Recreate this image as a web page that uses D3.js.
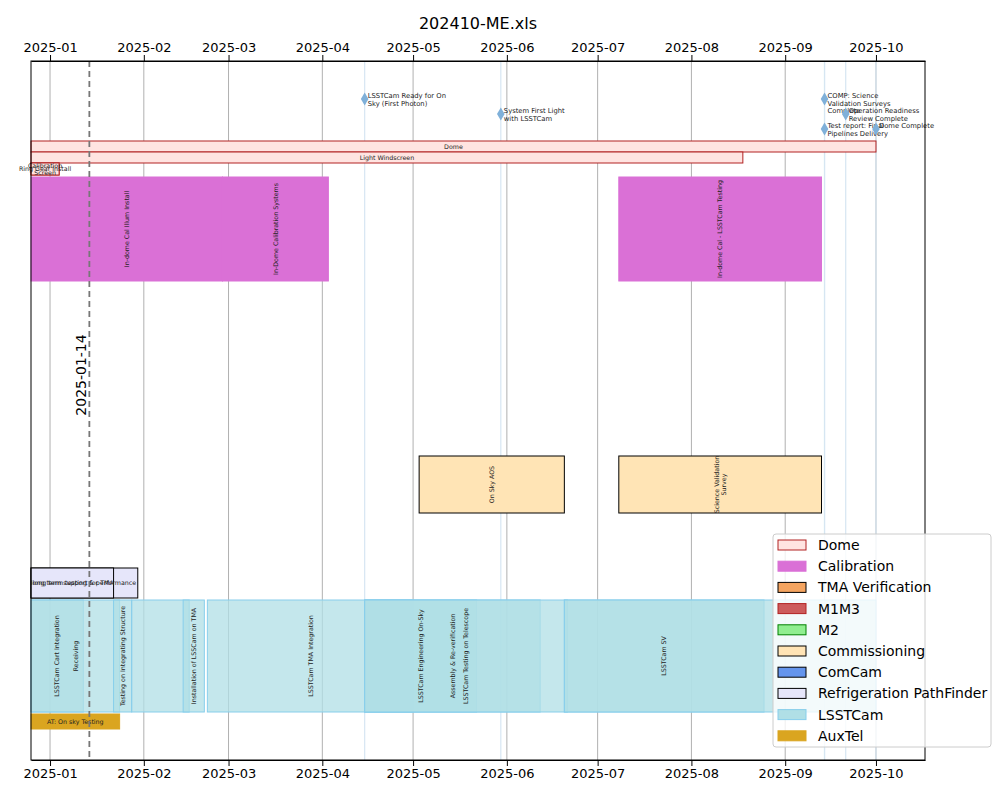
<!DOCTYPE html><html><head><meta charset="utf-8">
<script src="https://cdn.jsdelivr.net/npm/d3@7"></script>
<style>body{margin:0;background:#fff;font-family:"DejaVu Sans",sans-serif}</style></head><body>
<svg id="c" width="1000" height="800"></svg>
<script>
const monthTicks=["2025-01-01","2025-02-01","2025-03-01","2025-04-01","2025-05-01","2025-06-01","2025-07-01","2025-08-01","2025-09-01","2025-10-01"];
const categories=["Dome","Calibration","TMA Verification","M1M3","M2","Commissioning","ComCam","Refrigeration PathFinder","LSSTCam","AuxTel"];
const catFill=["#ffe4e1","#da70d6","#f4a460","#cd5c5c","#90ee90","#ffe4b5","#6495ed","#e6e6fa","#b0dfe6","#daa520"];
const catStroke=["#b22222","#da70d6","#000","#b22222","#008000","#000","#000","#000","#87ceeb","#daa520"];
// tasks: [category, label, start, end, y0, y1, vertical label]
const tasks=[
["Dome","Dome","2024-12-25","2025-10-01",8.0,9.1,false],
["Dome","Light Windscreen","2024-12-25","2025-08-18",9.1,10.2,false],
["Dome","Calibration\nScreen","2024-12-25","2025-01-04",10.2,11.4,false],
["Dome","Ring Gear Install","2024-12-25","2025-01-04",10.2,11.4,false],
["Calibration","In-dome Cal Illum Install","2024-12-25","2025-02-27",11.6,22.0,true],
["Calibration","In-Dome Calibration Systems","2025-02-27","2025-04-03",11.6,22.0,true],
["Calibration","In-dome Cal - LSSTCam Testing","2025-07-08","2025-09-13",11.6,22.0,true],
["Commissioning","On Sky AOS","2025-05-03","2025-06-20",39.5,45.2,true],
["Commissioning","Science Validation\nSurvey","2025-07-08","2025-09-13",39.5,45.2,true],
["Refrigeration PathFinder","long term testing & performance","2024-12-25","2025-01-30",50.7,53.7,false],
["Refrigeration PathFinder","long term support for TMA","2024-12-25","2025-01-22",50.7,53.7,false],
["LSSTCam","LSSTCam Cart Integration","2024-12-25","2025-01-12",53.9,65.1,true],
["LSSTCam","Receiving","2024-12-25","2025-01-24",53.9,65.1,true],
["LSSTCam","Testing on Integrating Structure","2025-01-22","2025-01-28",53.9,65.1,true],
["LSSTCam","","2025-01-28","2025-02-16",53.9,65.1,true],
["LSSTCam","Installation of LSSCam on TMA","2025-02-14","2025-02-21",53.9,65.1,true],
["LSSTCam","LSSTCam TMA Integration","2025-02-22","2025-05-01",53.9,65.1,true],
["LSSTCam","LSSTCam Engineering On-Sky","2025-04-15","2025-05-22",53.9,65.1,true],
["LSSTCam","Assembly & Re-verification","2025-04-15","2025-06-12",53.9,65.1,true],
["LSSTCam","LSSTCam Testing on Telescope","2025-04-15","2025-06-21",53.9,65.1,true],
["LSSTCam","LSSTCam SV","2025-06-20","2025-08-25",53.9,65.1,true],
["LSSTCam","","2025-06-20","2025-10-01",53.9,65.1,true],
["AuxTel","AT: On sky Testing","2024-12-25","2025-01-24",65.3,66.8,false]
];
// milestones: [label, date, y]
const milestones=[
["LSSTCam Ready for On\nSky (First Photon)","2025-04-15",3.8],
["System First Light\nwith LSSTCam","2025-05-30",5.3],
["COMP: Science\nValidation Surveys\nComplete","2025-09-14",3.8],
["Operation Readiness\nReview Complete","2025-09-21",5.3],
["Test report: Final\nPipelines Delivery","2025-09-14",6.8],
["Dome Complete","2025-10-01",6.8]
];
const markerDate="2025-01-14";

const p=d3.timeParse("%Y-%m-%d");
const svg=d3.select("#c");
const L=31,R=925,T=61,B=760;
const x=d3.scaleTime().domain([new Date(2024,11,25,17),new Date(2025,9,17,5)]).range([L,R]);
const y=d3.scaleLinear().domain([0,69.9]).range([T,B]);
const ticks=monthTicks.map(p);
const g=svg.append("g");
g.selectAll("line.grid").data(ticks).join("line").attr("x1",d=>x(d)).attr("x2",d=>x(d)).attr("y1",T).attr("y2",B).attr("stroke","#b0b0b0").attr("stroke-width",1);
g.selectAll("line.ms").data(milestones).join("line").attr("x1",d=>x(p(d[1]))).attr("x2",d=>x(p(d[1]))).attr("y1",T).attr("y2",B).attr("stroke","#d6e6f2").attr("stroke-width",1.2);
const ci=c=>categories.indexOf(c);
const xs=d=>Math.max(L,x(p(d)));
g.selectAll("rect.t").data(tasks).join("rect")
 .attr("x",d=>xs(d[2])).attr("width",d=>Math.max(1,x(p(d[3]))-xs(d[2])))
 .attr("y",d=>y(d[4])).attr("height",d=>y(d[5])-y(d[4]))
 .attr("fill",d=>catFill[ci(d[0])]).attr("stroke",d=>catStroke[ci(d[0])])
 .attr("fill-opacity",d=>d[0]=="LSSTCam"?0.75:1).attr("stroke-width",1);
tasks.forEach(d=>{
 if(!d[1])return;
 let cx=(xs(d[2])+x(p(d[3])))/2, cy=(y(d[4])+y(d[5]))/2;
 const lines=d[1].split("\n");
 const t=g.append("text").attr("font-size",6.3).attr("fill","#222").attr("text-anchor","middle");
 if(d[6]) t.attr("transform",`translate(${cx},${cy}) rotate(-90)`);
 else t.attr("transform",`translate(${cx},${cy})`);
 lines.forEach((l,i)=>t.append("tspan").attr("x",0).attr("dy",i==0?(-(lines.length-1)*3.5+2.3):7).text(l));
});
// dashed marker
g.append("line").attr("x1",x(p(markerDate))).attr("x2",x(p(markerDate))).attr("y1",T).attr("y2",B).attr("stroke","#777").attr("stroke-width",1.8).attr("stroke-dasharray","6,4");
g.append("text").attr("transform",`translate(${x(p(markerDate))-3},375) rotate(-90)`).attr("text-anchor","middle").attr("font-size",14).text(markerDate);
// milestones
milestones.forEach(m=>{
 const mx=x(p(m[1])),my=y(m[2]);
 g.append("path").attr("d",d3.symbol(d3.symbolDiamond,50)()).attr("transform",`translate(${mx},${my})`).attr("fill","#7fb0d9");
 const t=g.append("text").attr("font-size",6.8).attr("fill","#222");
 m[0].split("\n").forEach((l,i)=>t.append("tspan").attr("x",mx+3).attr("y",my-1+i*7.5).text(l));
});
// axes
svg.append("g").attr("transform",`translate(0,${T})`).call(d3.axisTop(x).tickValues(ticks).tickFormat(d3.timeFormat("%Y-%m")).tickSizeOuter(0)).call(a=>a.selectAll("text").attr("font-size",13).attr("font-family","DejaVu Sans"));
svg.append("g").attr("transform",`translate(0,${B})`).call(d3.axisBottom(x).tickValues(ticks).tickFormat(d3.timeFormat("%Y-%m")).tickSizeOuter(0)).call(a=>a.selectAll("text").attr("font-size",13).attr("font-family","DejaVu Sans"));
svg.append("rect").attr("x",L).attr("y",T).attr("width",R-L).attr("height",B-T).attr("fill","none").attr("stroke","#000");
svg.append("text").attr("x",(L+R)/2).attr("y",29).attr("text-anchor","middle").attr("font-size",16).text("202410-ME.xls");
// legend
const lg=svg.append("g").attr("transform","translate(773,534)");
lg.append("rect").attr("width",218).attr("height",213).attr("rx",3).attr("fill","#fff").attr("fill-opacity",0.8).attr("stroke","#ccc");
categories.forEach((c,i)=>{
 const yy=11+i*21.2;
 lg.append("rect").attr("x",5).attr("y",yy-5).attr("width",28).attr("height",10).attr("fill",catFill[i]).attr("stroke",catStroke[i]);
 lg.append("text").attr("x",45).attr("y",yy+5).attr("font-size",14).text(c);
});
</script></body></html>
